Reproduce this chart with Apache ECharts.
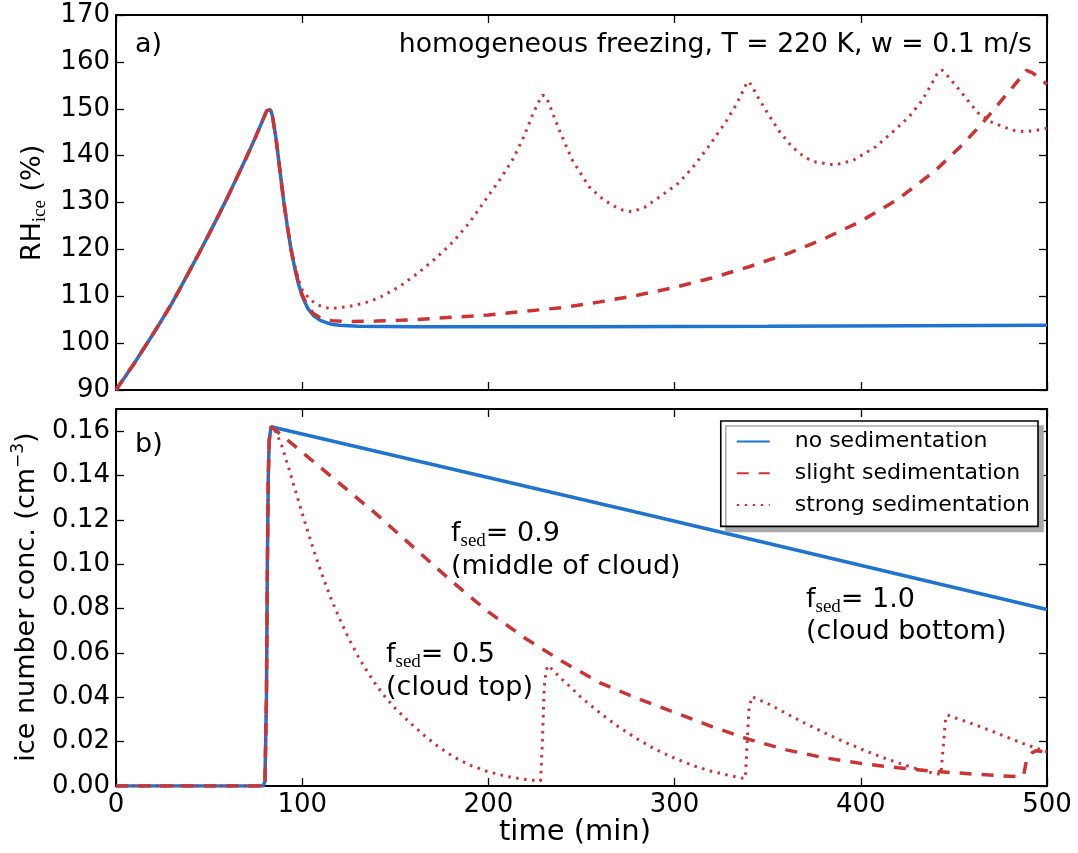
<!DOCTYPE html>
<html><head><meta charset="utf-8">
<script src="https://cdn.jsdelivr.net/npm/echarts@6/dist/echarts.min.js"></script>
<style>html,body{margin:0;padding:0;background:#fff}#c{width:1078px;height:853px}</style>
</head><body><div id="c"></div>
<script>
// ---------- data ----------
const seriesNames = ['no sedimentation', 'slight sedimentation', 'strong sedimentation'];
const timeRange = [0, 500];            // min
const rhRange = [90, 170];             // %
const nRange = [0, 0.17];              // cm^-3

// panel a) RH_ice (%) : [time (min), RH]
const rhRise = [[0,90],[5,92.9],[10,95.8],[15,98.9],[20,102.0],[25,105.2],[30,108.5],[35,112.1],[40,115.8],[45,119.5],[50,123.3],[55,127.2],[60,131.2],[65,135.4],[70,139.6],[75,144.0],[78,146.8],[80,148.7],[81,149.6],[82,150.0],[83,149.8],[84,148.5],[86,143.5],[88,137.0],[90,130.5],[92,125.0],[94,120.0]];
const rhNoSed = [[96,116.0],[98,112.6],[100,110.0],[103,107.4],[106,105.9],[110,104.8],[115,104.1],[120,103.8],[130,103.6],[160,103.5],[250,103.5],[350,103.6],[430,103.7],[500,103.8]];
const rhSlight = [[96,116.2],[98,112.8],[100,110.3],[103,107.8],[106,106.3],[110,105.3],[116,104.8],[125,104.6],[140,104.7],[160,105.0],[180,105.5],[200,106.0],[220,106.8],[240,107.6],[260,108.8],[280,110.2],[300,111.9],[320,113.9],[340,116.3],[360,119.0],[380,122.2],[400,126.0],[420,130.7],[440,136.8],[455,142.5],[465,146.8],[475,151.5],[483,155.3],[489,158.2],[492,157.7],[496,156.6],[500,155.2]];
const rhStrong = [[96,116.6],[98,113.6],[100,111.4],[104,109.4],[108,108.2],[112,107.6],[116,107.4],[125,107.8],[133,108.5],[141,109.6],[152,112.0],[163,115.2],[172,118.2],[181,121.6],[190,125.8],[199,130.9],[206,134.8],[213,139.1],[219,144.0],[224,149.0],[227,151.5],[229,152.9],[231,152.6],[234,149.6],[238,145.5],[245,139.1],[254,133.4],[260,131.2],[266,129.5],[272,128.4],[277,128.0],[284,129.0],[292,131.2],[302,134.1],[310,137.6],[318,141.8],[327,146.9],[333,150.8],[337,154.0],[339,155.8],[341,155.2],[345,152.3],[349,149.7],[356,145.3],[363,141.9],[370,139.6],[376,138.6],[386,138.0],[396,139.0],[408,141.9],[417,145.0],[426,148.3],[433,151.8],[438,155.3],[441,157.4],[443.5,158.3],[446,157.3],[453,154.0],[458,151.5],[463,149.1],[470,147.2],[476,146.2],[482,145.4],[488,145.1],[494,145.4],[500,145.8]];

// panel b) ice number concentration (cm^-3) : [time (min), N]
const nRise = [[0,0],[79,0],[80,0.002],[80.8,0.04],[81.3,0.1],[81.8,0.14],[82.3,0.156],[83.3,0.162]];
const nNoSed = [[286,0.1222],[500,0.0796]];
const nSlight = [[90,0.1575],[100,0.1505],[120,0.1365],[140,0.1225],[160,0.1075],[180,0.0925],[200,0.0785],[220,0.0665],[240,0.056],[260,0.0465],[280,0.0395],[300,0.0332],[320,0.0268],[340,0.021],[360,0.0163],[380,0.0128],[400,0.0102],[420,0.0082],[440,0.0066],[460,0.0054],[475,0.0046],[486,0.0041],[487.5,0.005],[489,0.0116],[492,0.015],[494,0.0159],[500,0.0154]];
const nStrong = [[86,0.1595],[89,0.1535],[92,0.1455],[95,0.137],[98,0.1285],[102,0.1175],[106,0.1068],[110,0.0968],[115,0.0855],[120,0.0755],[125,0.0665],[130,0.0585],[135,0.0515],[140,0.0452],[145,0.0397],[150,0.035],[157,0.0292],[165,0.0232],[173,0.0178],[181,0.0133],[190,0.0094],[200,0.0064],[210,0.0043],[218,0.0032],[225,0.0025],[228,0.0023],[229,0.02],[230,0.045],[231,0.052],[232,0.0544],[240,0.0478],[250,0.0398],[260,0.0329],[270,0.0266],[280,0.0212],[290,0.0164],[300,0.0125],[310,0.0092],[320,0.0066],[330,0.0046],[336,0.0036],[338,0.0034],[339,0.02],[340,0.035],[341.5,0.0403],[350,0.0372],[360,0.0327],[370,0.0283],[380,0.0242],[390,0.0203],[400,0.0167],[410,0.0134],[420,0.0104],[430,0.0078],[438,0.006],[443,0.0052],[444.5,0.02],[445.5,0.03],[446.5,0.032],[455,0.0295],[465,0.0265],[475,0.0232],[487,0.0192],[500,0.0154]];

// ---------- styling ----------
const BLUE = '#1f74cf', RED = '#cd3333';
const FONT = 'DejaVu Sans';
const SERIF = 'Liberation Serif';
const styles = [
  {color: BLUE, width: 3.5, type: 'solid'},
  {color: RED, width: 3.5, type: [12, 10]},
  {color: RED, width: 3, type: [2.5, 5.5]}
];

function axisCommon(extra) {
  return Object.assign({
    type: 'value',
    axisLine: {show: true, onZero: false, lineStyle: {color: '#000', width: 2}},
    axisTick: {show: true, inside: true, length: 8, lineStyle: {color: '#000', width: 1.3}},
    splitLine: {show: false},
    axisLabel: {show: false}
  }, extra);
}
const labelStyle = {show: true, color: '#000', fontFamily: FONT, fontSize: 26};

const chart = echarts.init(document.getElementById('c'), null, {renderer: 'canvas'});

const mkSeries = (i, data, ax) => ({
  type: 'line', name: seriesNames[i], data: data, xAxisIndex: ax, yAxisIndex: ax,
  showSymbol: false, symbol: 'none', smooth: false,
  lineStyle: styles[i], itemStyle: {color: styles[i].color}, animation: false, z: 2 + i
});

const mainRich = {
  a: {fontFamily: FONT, fontSize: 27, lineHeight: 34, color: '#000'},
  h: {fontFamily: FONT, fontSize: 26.7, lineHeight: 34, color: '#000'},
  t: {fontFamily: FONT, fontSize: 29, lineHeight: 34, color: '#000'},
  s: {fontFamily: SERIF, fontSize: 19, lineHeight: 17, verticalAlign: 'bottom', color: '#000'},
  p: {fontFamily: FONT, fontSize: 17, lineHeight: 17, verticalAlign: 'top', color: '#000'}
};
function txt(text, x, y, align, rot) {
  return {
    type: 'text', x: x, y: y, rotation: rot || 0, z: 100,
    style: {text: text, rich: mainRich, textAlign: align || 'left', textVerticalAlign: 'middle', fill: '#000',
            fontFamily: FONT, fontSize: 27}
  };
}

const allSeries = [
  mkSeries(0, rhRise.concat(rhNoSed), 0),
  mkSeries(1, rhRise.concat(rhSlight), 0),
  mkSeries(2, rhRise.concat(rhStrong), 0),
  mkSeries(0, nRise.concat(nNoSed), 2),
  mkSeries(1, nRise.concat(nSlight), 2),
  mkSeries(2, nRise.concat(nStrong), 2)
];

chart.setOption({
  animation: false,
  backgroundColor: '#fff',
  grid: [
    {left: 116, top: 15, width: 931, height: 375},
    {left: 116, top: 409, width: 931, height: 377}
  ],
  xAxis: [
    axisCommon({gridIndex: 0, position: 'bottom', min: timeRange[0], max: timeRange[1], interval: 100}),
    axisCommon({gridIndex: 0, position: 'top', min: timeRange[0], max: timeRange[1], interval: 100}),
    axisCommon({gridIndex: 1, position: 'bottom', min: timeRange[0], max: timeRange[1], interval: 100,
      axisLabel: Object.assign({}, labelStyle, {margin: 6})}),
    axisCommon({gridIndex: 1, position: 'top', min: timeRange[0], max: timeRange[1], interval: 100})
  ],
  yAxis: [
    axisCommon({gridIndex: 0, position: 'left', min: rhRange[0], max: rhRange[1], interval: 10,
      axisLabel: Object.assign({}, labelStyle, {margin: 6})}),
    axisCommon({gridIndex: 0, position: 'right', min: rhRange[0], max: rhRange[1], interval: 10}),
    axisCommon({gridIndex: 1, position: 'left', min: nRange[0], max: nRange[1], interval: 0.02,
      axisLabel: Object.assign({}, labelStyle, {margin: 6, showMaxLabel: false,
        formatter: v => v.toFixed(2)})}),
    axisCommon({gridIndex: 1, position: 'right', min: nRange[0], max: nRange[1], interval: 0.02})
  ],
  legend: {
    data: seriesNames, orient: 'vertical', right: 40, top: 421,
    itemWidth: 33, itemHeight: 14, itemGap: 9.7,
    padding: [9.5, 8, 10.5, 15],
    backgroundColor: '#fff', borderColor: '#000', borderWidth: 1.6, borderRadius: 0,
    shadowColor: '#aaaaaa', shadowBlur: 0, shadowOffsetX: 5, shadowOffsetY: 5,
    itemStyle: {color: 'rgba(0,0,0,0)', borderColor: 'rgba(0,0,0,0)', borderWidth: 0, opacity: 0},
    textStyle: {fontFamily: FONT, fontSize: 22, lineHeight: 22, color: '#000', padding: [0, 0, 0, 20]},
    selectedMode: false
  },
  series: allSeries,
  graphic: [
    txt('{a|a)}', 135, 45),
    txt('{a|b)}', 135, 445),
    txt('{h|homogeneous freezing, T = 220 K, w = 0.1 m/s}', 1032, 45, 'right'),
    txt('{a|RH}{s|ice}{a| (%)}', 33, 203, 'center', Math.PI / 2),
    txt('{a|ice number conc. (cm}{p|−3}{a|)}', 27, 597, 'center', Math.PI / 2),
    txt('{t|time (min)}', 575, 832, 'center'),
    txt('{a|f}{s|sed}{a|= 0.9}', 451, 534),
    txt('{a|(middle of cloud)}', 451, 567),
    txt('{a|f}{s|sed}{a|= 1.0}', 806, 600),
    txt('{a|(cloud bottom)}', 806, 632),
    txt('{a|f}{s|sed}{a|= 0.5}', 386, 655),
    txt('{a|(cloud top)}', 386, 688)
  ]
});
</script>
</body></html>
